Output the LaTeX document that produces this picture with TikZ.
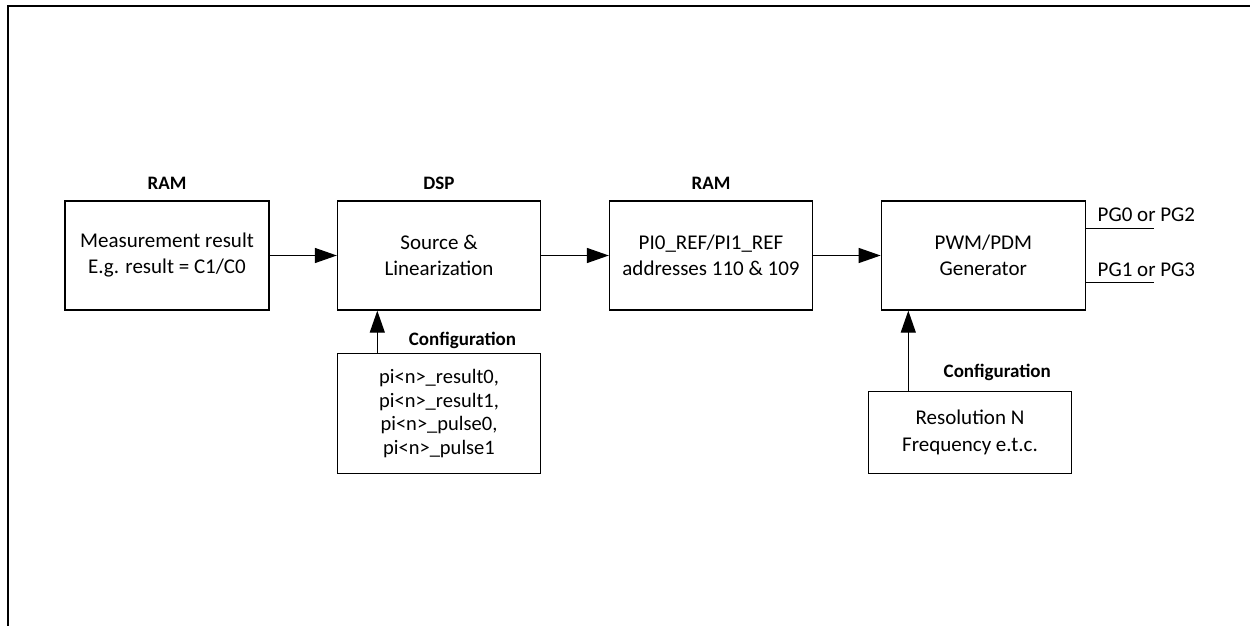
\documentclass[tikz,border=0pt]{standalone}
\usepackage{fontspec}
\setmainfont{Carlito}
\usetikzlibrary{arrows.meta,calc}
\begin{document}
\begin{tikzpicture}[x=1pt,y=-1pt,
  blk/.style={draw,line width=1.3pt,align=center,inner sep=0pt,
    font=\fontsize{21}{26}\selectfont},
  hdr/.style={font=\fontsize{19}{22}\selectfont\bfseries,inner sep=0pt},
  sig/.style={font=\fontsize{21}{26}\selectfont,inner sep=0pt,anchor=west},
  arr/.style={line width=1.3pt,-{Triangle[length=22pt,width=15pt]}},
  wire/.style={line width=1.3pt}]
\useasboundingbox (0,0) rectangle (1250,626);
\draw[line width=2pt] (8,640) -- (8,6) -- (1260,6);

\node[blk,minimum width=204pt,minimum height=109pt] (b1) at (167,255.5) {Measurement result\\E.g. result = C1/C0};
\node[blk,minimum width=203pt,minimum height=109pt] (b2) at (439,255.5) {Source \&\\Linearization};
\node[blk,minimum width=203pt,minimum height=109pt] (b3) at (711,255.5) {PI0\_REF/PI1\_REF\\addresses 110 \& 109};
\node[blk,minimum width=204pt,minimum height=109pt] (b4) at (983.3,255.5) {PWM/PDM\\Generator};

\node[hdr] (h1) at (167,183) {RAM};
\node[hdr] (h2) at (439,183) {DSP};
\node[hdr] (h3) at (711,183) {RAM};

\node[blk,minimum width=203.4pt,minimum height=120pt,font=\fontsize{20.5}{23.5}\selectfont] (c1) at (439,413.3) {pi<n>\_result0,\\pi<n>\_result1,\\pi<n>\_pulse0,\\pi<n>\_pulse1};
\node[blk,minimum width=203.4pt,minimum height=81.6pt,font=\fontsize{21}{26.5}\selectfont] (c2) at (970,432.5) {Resolution N\\Frequency e.t.c.};

\node[hdr] (l1) at (462.5,340.7) {Configuration};
\node[hdr] (l2) at (997.3,372.7) {Configuration};

\draw[arr] (b1.east) -- (b2.west);
\draw[arr] (b2.east) -- (b3.west);
\draw[arr] (b3.east) -- (b4.west);

\coordinate (a1) at (377.3,353.3);
\draw[arr] (a1) -- (a1 |- b2.south);
\coordinate (a2) at (908.3,391.7);
\draw[arr] (a2) -- (a2 |- b4.south);

\coordinate (p0) at (1085.3,228.7);
\coordinate (p1) at (1085.3,282.7);
\coordinate (q0) at (1153.5,228.7);
\coordinate (q1) at (1153.5,282.7);
\draw[wire] (p0) -- (q0);
\draw[wire] (p1) -- (q1);
\node[sig] (s0) at (1097.5,215) {PG0 or PG2};
\node[sig] (s1) at (1097.5,270) {PG1 or PG3};
\end{tikzpicture}
\end{document}
